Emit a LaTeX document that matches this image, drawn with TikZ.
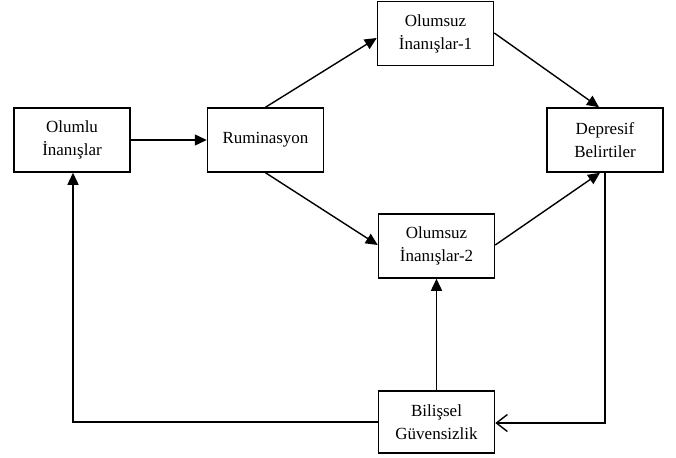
\documentclass[tikz,border=0pt]{standalone}
\usepackage{fontspec}
\setmainfont{Liberation Serif}
\usetikzlibrary{arrows.meta}
\begin{document}
\begin{tikzpicture}[x=1pt,y=-1pt,
  box/.style={draw,line width=1.5pt,minimum width=116pt,minimum height=64pt,align=center,font=\fontsize{17}{23}\selectfont,inner sep=0pt},
  conn/.style={line width=1.4pt,-{Triangle[length=12pt,width=11pt]}},
  openconn/.style={line width=1.4pt,-{Straight Barb[length=11pt,width=17pt,line width=1.4pt]}}]
\useasboundingbox (0,0) rectangle (676,457);
\node[box] (olumlu) at (72,140) {Olumlu\\İnanışlar};
\node[box] (rum) at (265.5,140) {Ruminasyon};
\node[box] (ol1) at (435.5,33.5) {Olumsuz\\İnanışlar-1};
\node[box] (dep) at (605,140) {Depresif\\Belirtiler};
\node[box] (ol2) at (436.5,246) {Olumsuz\\İnanışlar-2};
\node[box,minimum height=62pt] (bil) at (436.5,422) {Bilişsel\\Güvensizlik};
\coordinate (bl) at (73,422);
\coordinate (br) at (605,423);
\draw[conn] (olumlu.east) -- (rum.west);
\draw[conn] (rum.north) -- (ol1.west |- 0,38);
\draw[conn] (rum.south) -- (ol2.west |- 0,245);
\draw[conn] (ol1.east |- 0,33) -- (dep.north -| 599,0);
\draw[conn] (ol2.east |- 0,245) -- (dep.south -| 600,0);
\draw[conn] (bil.north) -- (ol2.south);
\draw[conn] (bil.west) -- (bl) -- (olumlu.south -| bl);
\draw[openconn] (dep.south) -- (br) -- (bil.east |- br);
\end{tikzpicture}
\end{document}
